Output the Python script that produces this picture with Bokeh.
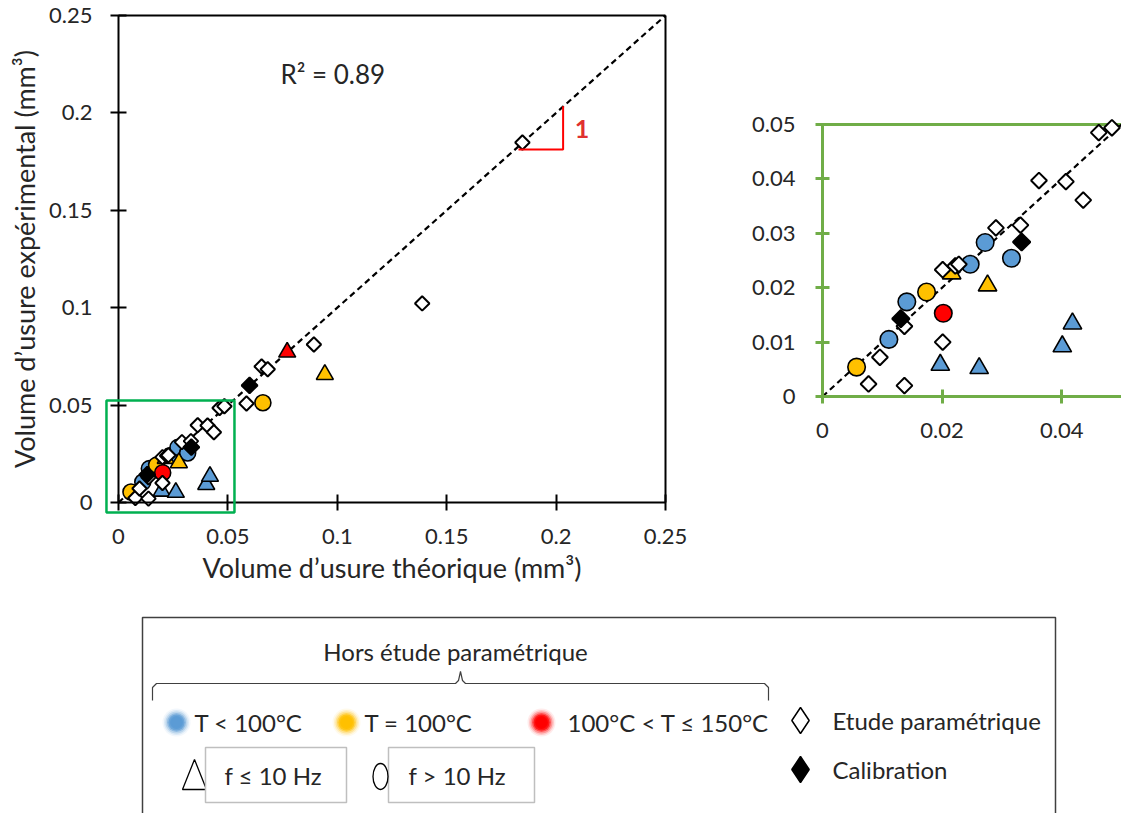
import numpy as np
from bokeh.plotting import figure
from bokeh.layouts import row, column
from bokeh.models import Range1d, FixedTicker, BoxAnnotation, Label
from bokeh.core.properties import value
from bokeh.embed import file_html
from bokeh.resources import INLINE

# ---------------- data ----------------
param_x = [0.0077, 0.0096, 0.0137, 0.0137, 0.0201, 0.0201, 0.0222, 0.0228, 0.0290, 0.0331,
           0.0362, 0.0407, 0.0436, 0.0462, 0.0484, 0.0585, 0.0654, 0.0682, 0.0893, 0.1388, 0.1846]
param_y = [0.0023, 0.0072, 0.0020, 0.0129, 0.0100, 0.0233, 0.0240, 0.0243, 0.0310, 0.0315,
           0.0397, 0.0395, 0.0361, 0.0485, 0.0494, 0.0508, 0.0698, 0.0684, 0.0811, 0.1022, 0.1848]
calib_x = [0.0131, 0.0333, 0.0599]
calib_y = [0.0143, 0.0284, 0.0601]
blue_circ_x = [0.0111, 0.0141, 0.0247, 0.0272, 0.0316]
blue_circ_y = [0.0105, 0.0174, 0.0243, 0.0283, 0.0254]
yel_circ_x = [0.0057, 0.0174, 0.0660]
yel_circ_y = [0.0054, 0.0192, 0.0512]
red_circ_x = [0.0202]
red_circ_y = [0.0153]
blue_tri_x = [0.0197, 0.0262, 0.0401, 0.0418]
blue_tri_y = [0.0058, 0.0052, 0.0092, 0.0134]
yel_tri_x = [0.0216, 0.0276, 0.0943]
yel_tri_y = [0.0226, 0.0204, 0.0657]
red_tri_x = [0.0771]
red_tri_y = [0.0772]

main_lim = [0, 0.25]
inset_lim = [0, 0.05]
main_ticks = [0, 0.05, 0.1, 0.15, 0.2, 0.25]
main_tick_labels = ["0", "0.05", "0.1", "0.15", "0.2", "0.25"]
inset_xticks = [0, 0.02, 0.04]
inset_xtick_labels = ["0", "0.02", "0.04"]
inset_yticks = [0, 0.01, 0.02, 0.03, 0.04, 0.05]
inset_ytick_labels = ["0", "0.01", "0.02", "0.03", "0.04", "0.05"]

r2_text = "R\u00b2 = 0.89"
xlabel = "Volume d\u2019usure th\u00e9orique (mm\u00b3)"
ylabel = "Volume d\u2019usure exp\u00e9rimental (mm\u00b3)"

BLUE = "#5B9BD5"
YEL = "#FFC000"
RED = "#FF0000"
GREEN_IN = "#70AD47"
GREEN_BOX = "#00B050"
FONT = "Lato"
TXT = "#262626"


def draw_points(fig, s):
    kw = dict(line_color="black", line_width=1.6)
    fig.scatter(blue_circ_x, blue_circ_y, marker="circle", size=s, fill_color=BLUE, **kw)
    fig.scatter(yel_circ_x, yel_circ_y, marker="circle", size=s, fill_color=YEL, **kw)
    fig.scatter(red_circ_x, red_circ_y, marker="circle", size=s, fill_color=RED, **kw)
    fig.scatter(blue_tri_x, blue_tri_y, marker="triangle", size=s + 1, fill_color=BLUE, **kw)
    fig.scatter(yel_tri_x, yel_tri_y, marker="triangle", size=s + 1, fill_color=YEL, **kw)
    fig.scatter(red_tri_x, red_tri_y, marker="triangle", size=s + 1, fill_color=RED, **kw)
    fig.scatter(param_x, param_y, marker="square", angle=np.pi / 4, size=s * 0.64,
                fill_color="white", line_color="black", line_width=2)
    fig.scatter(calib_x, calib_y, marker="square", angle=np.pi / 4, size=s * 0.7,
                fill_color="black", line_color="black", line_width=2)


def style_axis(ax, color, width, tin, tout, standoff):
    ax.axis_line_color = color
    ax.axis_line_width = width
    ax.major_tick_line_color = color
    ax.major_tick_line_width = width
    ax.major_tick_in = tin
    ax.major_tick_out = tout
    ax.minor_tick_line_color = None
    ax.major_label_text_font = FONT
    ax.major_label_text_font_size = "22px"
    ax.major_label_text_color = TXT
    ax.major_label_standoff = standoff
    ax.axis_label_text_font = FONT
    ax.axis_label_text_font_size = "27px"
    ax.axis_label_text_font_style = "normal"
    ax.axis_label_text_color = TXT


ROW_H = 608

# ---------------- main plot (frame = whole figure; axes placed at 0) ----------------
p = figure(width=708, height=ROW_H, frame_width=708, frame_height=ROW_H,
           x_range=Range1d(-0.05393, 0.26965), y_range=Range1d(-0.05441, 0.2577),
           min_border=0, output_backend="svg", toolbar_location=None)
p.grid.visible = False
p.outline_line_color = None
p.background_fill_color = "white"
p.border_fill_color = "white"
p.xaxis.ticker = FixedTicker(ticks=main_ticks)
p.yaxis.ticker = FixedTicker(ticks=main_ticks)
p.xaxis.major_label_overrides = dict(zip(main_ticks, main_tick_labels))
p.yaxis.major_label_overrides = dict(zip(main_ticks, main_tick_labels))
p.xaxis.axis_label = xlabel
p.yaxis.axis_label = ylabel
style_axis(p.xaxis[0], "black", 2, 8, 8, 18)
style_axis(p.yaxis[0], "black", 2, 8, 8, 18)
p.xaxis.fixed_location = 0
p.yaxis.fixed_location = 0
p.xaxis.bounds = tuple(main_lim)
p.yaxis.bounds = tuple(main_lim)
p.xaxis.axis_label_standoff = 4
p.yaxis.axis_label_standoff = 5

# top and right border lines of the plot box
p.line(main_lim, [main_lim[1]] * 2, line_color="black", line_width=2)
p.line([main_lim[1]] * 2, main_lim, line_color="black", line_width=2)

p.line(main_lim, main_lim, line_color="black", line_width=2.2, line_dash="6 4")
draw_points(p, 16)

p.add_layout(BoxAnnotation(left=-0.0055, right=0.053, bottom=-0.0051, top=0.0524,
                           fill_alpha=0, line_color=GREEN_BOX, line_alpha=1, line_width=2.5))
p.add_layout(Label(x=0.074, y=0.2202, text=r2_text, text_font=FONT, text_font_size="26px",
                   text_color=TXT, text_baseline="middle", text_align="left"))
p.line([0.1828, 0.2032, 0.2032], [0.1812, 0.1812, 0.2034], line_color=RED, line_width=2)
p.add_layout(Label(x=0.2085, y=0.1915, text="1", text_font=FONT, text_font_size="25px",
                   text_font_style="bold", text_color="#E0312F",
                   text_baseline="middle", text_align="left"))

# ---------------- inset ----------------
q = figure(width=413, height=ROW_H, frame_width=413, frame_height=ROW_H,
           x_range=Range1d(-0.019064, 0.05), y_range=Range1d(-0.038971, 0.072794),
           min_border=0, output_backend="svg", toolbar_location=None)
q.grid.visible = False
q.outline_line_color = None
q.border_fill_color = "white"
q.xaxis.ticker = FixedTicker(ticks=inset_xticks)
q.yaxis.ticker = FixedTicker(ticks=inset_yticks)
q.xaxis.major_label_overrides = dict(zip(inset_xticks, inset_xtick_labels))
q.yaxis.major_label_overrides = dict(zip(inset_yticks, inset_ytick_labels))
style_axis(q.xaxis[0], GREEN_IN, 3, 7, 7, 20)
style_axis(q.yaxis[0], GREEN_IN, 3, 7, 7, 20)
q.xaxis.fixed_location = 0
q.yaxis.fixed_location = 0
q.xaxis.bounds = tuple(inset_lim)
q.yaxis.bounds = tuple(inset_lim)
q.line(inset_lim, [inset_lim[1], inset_lim[1]], line_color=GREEN_IN, line_width=3)
q.line(inset_lim, inset_lim, line_color="black", line_width=2.2, line_dash="6 4")
draw_points(q, 17.5)

# ---------------- legend ----------------
LH = 205
L = figure(width=1121, height=LH, x_range=Range1d(0, 1121), y_range=Range1d(608 + LH, 608),
           min_border=0, x_axis_type=None, y_axis_type=None,
           output_backend="svg", toolbar_location=None)
L.grid.visible = False
L.outline_line_color = None
L.border_fill_color = "white"

LF = "24px"
L.line([142, 142, 1055, 1055], [830, 617, 617, 830], line_color="#404040", line_width=1.5)
L.text([455], [651], text=["Hors \u00e9tude param\u00e9trique"], text_font=value(FONT),
       text_font_size=LF, text_align="center", text_baseline="middle", text_color=TXT)
L.line([152, 152, 156, 455, 458, 460, 462, 465, 764, 768, 768],
       [700, 687, 683, 683, 680, 671, 680, 683, 683, 687, 700], line_color="#404040", line_width=1.2)

glow_x = [176, 346, 541]
glow_c = [BLUE, YEL, RED]
for sz, a in [(28, 0.08), (25, 0.14), (22, 0.25), (19, 0.45), (16, 0.7), (13, 0.9), (10, 1.0)]:
    L.scatter(glow_x, [722] * 3, size=sz, fill_color=glow_c, fill_alpha=a, line_color=None)

L.text([194, 364, 567, 832, 832], [722, 722, 722, 720, 769],
       text=["T < 100\u00b0C", "T = 100\u00b0C", "100\u00b0C < T \u2264 150\u00b0C",
             "Etude param\u00e9trique", "Calibration"],
       text_font=value(FONT), text_font_size=LF, text_align="left", text_baseline="middle",
       text_color=TXT)
L.scatter([800], [720], marker="diamond", size=26, fill_color="white", line_color="black", line_width=1.5)
L.scatter([800], [769], marker="diamond", size=26, fill_color="black", line_color="black", line_width=1.5)

L.patch([182, 194, 206], [789, 759, 789], fill_color="white", line_color="black", line_width=1.3)
L.quad(left=[205, 388], right=[346, 534], top=[747, 747], bottom=[802, 802],
       fill_color="white", line_color="#BFBFBF", line_width=1.5)
L.ellipse([380], [776], width=15, height=26, fill_color=None, line_color="black", line_width=1.3)
L.text([224, 408], [775, 775], text=["f \u2264 10 Hz", "f > 10 Hz"], text_font=value(FONT),
       text_font_size=LF, text_align="left", text_baseline="middle", text_color=TXT)

layout = column(row(p, q), L)
open("out.html", "w").write(file_html(layout, INLINE))
